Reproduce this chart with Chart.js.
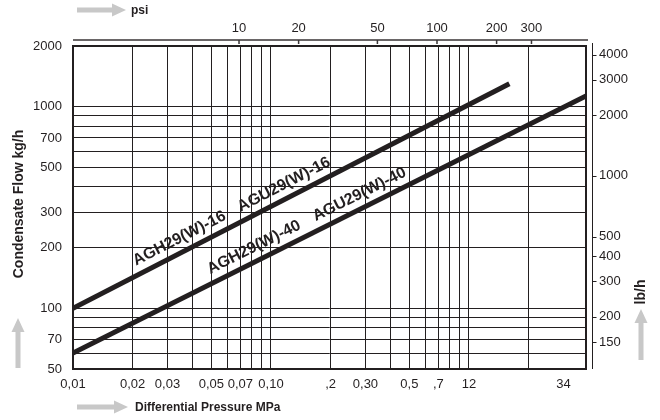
<!DOCTYPE html>
<html>
<head>
<meta charset="utf-8">
<script src="https://cdn.jsdelivr.net/npm/chart.js@4.4.1/dist/chart.umd.min.js"></script>
<style>
  html, body { margin: 0; padding: 0; background: #fff; }
  #wrap { width: 660px; height: 420px; }
</style>
</head>
<body>
<div id="wrap"><canvas id="flowChart" width="660" height="420"></canvas></div>
<script>
// Condensate flow vs differential pressure, log-log chart

// bottom axis (MPa)
const pressureLabels = ['0,01', '0,02', '0,03', '0,05', '0,07', '0,10', ',2', '0,30', '0,5', ',7', '12', '34'];
const pressureLabelValues = [0.01, 0.02, 0.03, 0.05, 0.07, 0.1, 0.2, 0.3, 0.5, 0.7, 1, 3];
const pressureGrid = [0.02, 0.03, 0.04, 0.05, 0.06, 0.07, 0.08, 0.09, 0.1,
                      0.2, 0.3, 0.4, 0.5, 0.6, 0.7, 0.8, 0.9, 1, 2];
const pressureMin = 0.01;
const pressureMax = 3.9;

// left axis (kg/h)
const flowLabels = ['50', '70', '100', '200', '300', '500', '700', '1000', '2000'];
const flowLabelValues = [50, 70, 100, 200, 300, 500, 700, 1000, 2000];
const flowGrid = [60, 70, 80, 90, 100, 200, 300, 400, 500, 600, 700, 800, 900, 1000];
const flowMin = 50;
const flowMax = 2000;

// secondary axes
const psiLabels = ['10', '20', '50', '100', '200', '300'];
const psiLabelValues = [10, 20, 50, 100, 200, 300];
const lbLabels = ['150', '200', '300', '400', '500', '1000', '2000', '3000', '4000'];
const lbLabelValues = [150, 200, 300, 400, 500, 1000, 2000, 3000, 4000];
const PSI_PER_MPA = 145.038;
const LB_PER_KG = 2.20462;

// series
const seriesNames = ['AGH29(W)-16 / AGU29(W)-16', 'AGH29(W)-40 / AGU29(W)-40'];
const pressure16 = [0.01, 1.6];
const flow16 = [100, 1300];
const pressure40 = [0.01, 3.9];
const flow40 = [60, 1130];

// captions written along each line (text, pressure where it sits)
const captions16 = ['AGH29(W)-16', 'AGU29(W)-16'];
const captionAt16 = [0.037, 0.125];
const captions40 = ['AGH29(W)-40', 'AGU29(W)-40'];
const captionAt40 = [0.088, 0.3];

const INK = '#231f20';
const FONT = "'Liberation Sans', Arial, Helvetica, sans-serif";
const ARROW = '#c8c8c8';

const same = (a, b) => Math.abs(a - b) < 1e-9 * Math.max(1, Math.abs(b));
const labelFor = (values, labels) => (v) => {
  const i = values.findIndex(x => same(x, v));
  return i >= 0 ? labels[i] : '';
};
const union = (a, b) => [...new Set([...a, ...b])].sort((p, q) => p - q);
const setTicks = (values) => (scale) => { scale.ticks = values.map(v => ({ value: v })); };

function arrow(ctx, x1, y1, x2, y2) {
  const ang = Math.atan2(y2 - y1, x2 - x1);
  const len = Math.hypot(x2 - x1, y2 - y1);
  ctx.save();
  ctx.translate(x1, y1);
  ctx.rotate(ang);
  ctx.fillStyle = ARROW;
  ctx.fillRect(0, -2.5, len - 12, 5);
  ctx.beginPath();
  ctx.moveTo(len, 0);
  ctx.lineTo(len - 14, -6.5);
  ctx.lineTo(len - 14, 6.5);
  ctx.closePath();
  ctx.fill();
  ctx.restore();
}

function flowAt(px, fy, p) {
  const t = (Math.log(p) - Math.log(px[0])) / (Math.log(px[1]) - Math.log(px[0]));
  return Math.exp(Math.log(fy[0]) + t * (Math.log(fy[1]) - Math.log(fy[0])));
}

const decorations = {
  id: 'decorations',
  afterDraw(chart) {
    const { ctx, chartArea: a, scales } = chart;
    const xs = scales.x, ys = scales.y;

    // plot frame
    ctx.save();
    ctx.strokeStyle = INK;
    ctx.lineWidth = 2;
    ctx.strokeRect(a.left, a.top, a.right - a.left, a.bottom - a.top);

    // psi axis line
    ctx.lineWidth = 1.5;
    ctx.strokeStyle = '#3a3536';
    ctx.beginPath();
    ctx.moveTo(a.left, a.top - 6);
    ctx.lineTo(a.right + 2, a.top - 6);
    psiLabelValues.forEach(v => {
      const x = scales.x2.getPixelForValue(v);
      ctx.moveTo(x, a.top - 6);
      ctx.lineTo(x, a.top - 2);
    });
    ctx.stroke();

    // lb/h axis line
    const rx = a.right + 6.5;
    ctx.lineWidth = 1;
    ctx.strokeStyle = INK;
    ctx.beginPath();
    ctx.moveTo(rx, a.top - 3);
    ctx.lineTo(rx, a.bottom);
    lbLabelValues.forEach(v => {
      const y = Math.round(scales.y2.getPixelForValue(v)) + 0.5;
      ctx.moveTo(rx, y);
      ctx.lineTo(rx + 4, y);
    });
    ctx.stroke();

    // captions along the lines
    ctx.fillStyle = INK;
    ctx.font = 'bold 16px ' + FONT;
    ctx.textAlign = 'center';
    ctx.textBaseline = 'alphabetic';
    [[pressure16, flow16, captions16, captionAt16], [pressure40, flow40, captions40, captionAt40]]
      .forEach(([px, fy, texts, at]) => {
        const x0 = xs.getPixelForValue(px[0]), y0 = ys.getPixelForValue(fy[0]);
        const x1 = xs.getPixelForValue(px[1]), y1 = ys.getPixelForValue(fy[1]);
        const ang = Math.atan2(y1 - y0, x1 - x0);
        texts.forEach((t, i) => {
          const p = at[i];
          const x = xs.getPixelForValue(p), y = ys.getPixelForValue(flowAt(px, fy, p));
          ctx.save();
          ctx.translate(x, y);
          ctx.rotate(ang);
          ctx.fillText(t, 0, -9);
          ctx.restore();
        });
      });

    // axis titles and arrows
    ctx.font = 'bold 12px ' + FONT;
    ctx.textBaseline = 'middle';
    ctx.textAlign = 'left';
    arrow(ctx, 77, 10, 126, 10);
    ctx.fillText('psi', 131, 11);
    arrow(ctx, 77, 407, 128, 407);
    ctx.fillText('Differential Pressure MPa', 135, 408);

    ctx.font = 'bold 14px ' + FONT;
    ctx.textAlign = 'center';
    ctx.save();
    ctx.translate(19, 204);
    ctx.rotate(-Math.PI / 2);
    ctx.fillText('Condensate Flow kg/h', 0, 0);
    ctx.restore();
    arrow(ctx, 18, 368, 18, 318);

    ctx.save();
    ctx.translate(641, 292);
    ctx.rotate(-Math.PI / 2);
    ctx.fillText('lb/h', 0, 0);
    ctx.restore();
    arrow(ctx, 641, 360, 641, 309);
    ctx.restore();
  }
};

const tickFont = { family: FONT, size: 13 };

new Chart(document.getElementById('flowChart'), {
  type: 'line',
  data: {
    datasets: [
      {
        label: seriesNames[0],
        data: pressure16.map((p, i) => ({ x: p, y: flow16[i] })),
        borderColor: INK, borderWidth: 5, pointRadius: 0, borderCapStyle: 'butt'
      },
      {
        label: seriesNames[1],
        data: pressure40.map((p, i) => ({ x: p, y: flow40[i] })),
        borderColor: INK, borderWidth: 5, pointRadius: 0, borderCapStyle: 'butt'
      }
    ]
  },
  options: {
    responsive: false,
    animation: false,
    devicePixelRatio: 1,
    layout: { padding: 0 },
    plugins: { legend: { display: false }, tooltip: { enabled: false } },
    scales: {
      x: {
        type: 'logarithmic', position: 'bottom',
        min: pressureMin, max: pressureMax,
        afterBuildTicks: setTicks(union(pressureGrid, pressureLabelValues)),
        afterFit: (s) => { s.height = 51; },
        ticks: {
          autoSkip: false, maxRotation: 0, padding: 8, color: INK, font: tickFont,
          callback: labelFor(pressureLabelValues, pressureLabels)
        },
        grid: {
          drawTicks: false, lineWidth: 1,
          color: (c) => pressureGrid.some(v => same(v, c.tick.value)) ? INK : 'rgba(0,0,0,0)'
        },
        border: { display: false }
      },
      x2: {
        type: 'logarithmic', position: 'top',
        min: pressureMin * PSI_PER_MPA, max: pressureMax * PSI_PER_MPA,
        afterBuildTicks: setTicks(psiLabelValues),
        afterFit: (s) => { s.height = 46; },
        ticks: {
          autoSkip: false, maxRotation: 0, padding: 10, color: INK, font: tickFont,
          callback: labelFor(psiLabelValues, psiLabels)
        },
        grid: { drawOnChartArea: false, drawTicks: false },
        border: { display: false }
      },
      y: {
        type: 'logarithmic', position: 'left',
        min: flowMin, max: flowMax,
        afterBuildTicks: setTicks(union(flowGrid, flowLabelValues)),
        afterFit: (s) => { s.width = 73; },
        ticks: {
          autoSkip: false, padding: 11, color: INK, font: tickFont,
          callback: labelFor(flowLabelValues, flowLabels)
        },
        grid: {
          drawTicks: false, lineWidth: 1,
          color: (c) => flowGrid.some(v => same(v, c.tick.value)) ? INK : 'rgba(0,0,0,0)'
        },
        border: { display: false }
      },
      y2: {
        type: 'logarithmic', position: 'right',
        min: flowMin * LB_PER_KG, max: flowMax * LB_PER_KG,
        afterBuildTicks: setTicks(lbLabelValues),
        afterFit: (s) => { s.width = 74; },
        ticks: {
          autoSkip: false, padding: 13, color: INK, font: tickFont,
          callback: labelFor(lbLabelValues, lbLabels)
        },
        grid: { drawOnChartArea: false, drawTicks: false },
        border: { display: false }
      }
    }
  },
  plugins: [decorations]
});
</script>
</body>
</html>
